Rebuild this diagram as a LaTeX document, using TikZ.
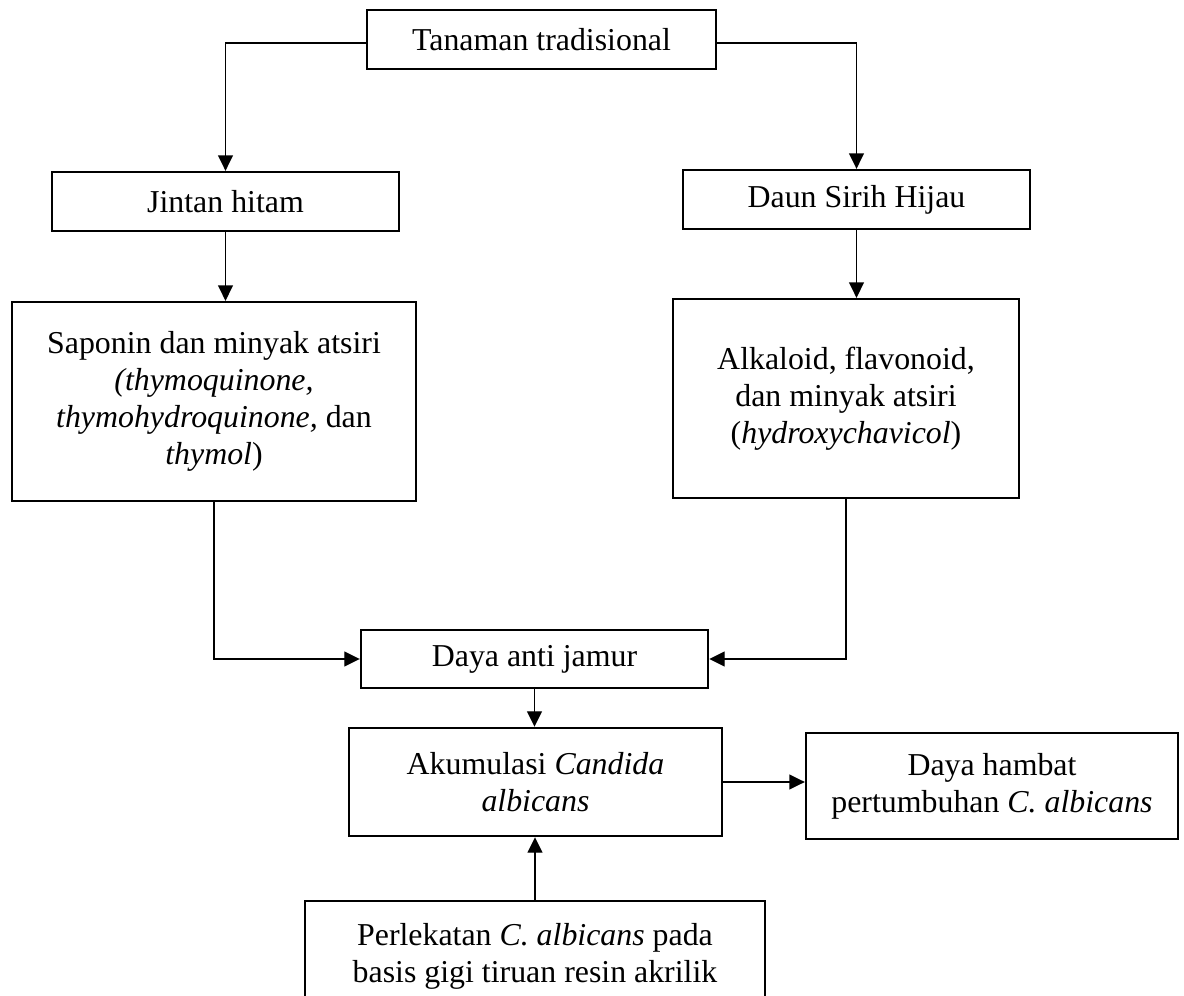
\documentclass[tikz,border=0pt]{standalone}
\usepackage{fontspec}
\setmainfont{Liberation Serif}
\usetikzlibrary{arrows.meta}
\usetikzlibrary{positioning}
\tikzset{kotak/.style = {draw, line width = 0.9pt, align = center, inner sep = 0, font = \fontsize{12}{14}\selectfont}}
\tikzset{panah/.style = {-{Triangle[length = 5.8pt, width = 5.6pt]}, line width = 0.45pt}}

\begin{document}
\begin{tikzpicture}[x = 0.3766pt, y = -0.3766pt]
    \useasboundingbox (0, 0) rectangle (1184, 996);
    \clip (0, 0) rectangle (1184, 996);

    \node [kotak, minimum width = 131.4pt, minimum height = 22.2pt] (tanaman) at (541.5, 39.5) {Tanaman tradisional};
    \node [kotak, minimum width = 130.7pt, minimum height = 22.2pt] (jintan) at (225.5, 201.5) {Jintan hitam};
    \node [kotak, minimum width = 130.7pt, minimum height = 22.2pt] (daun) at (856.5, 199.5) {Daun Sirih Hijau};
    \node [kotak, minimum width = 152.1pt, minimum height = 74.9pt] (saponin) at (214, 401.5)
      {Saponin dan minyak atsiri\\ \textit{(thymoquinone,}\\ \textit{thymohydroquinone,} dan\\ \textit{thymol})};
    \node [kotak, minimum width = 130.3pt, minimum height = 74.9pt] (alkaloid) at (846, 398.5)
      {Alkaloid, flavonoid,\\ dan minyak atsiri\\ (\textit{hydroxychavicol})};
    \node [kotak, minimum width = 130.7pt, minimum height = 21.8pt] (dayaanti) at (534.5, 659) {Daya anti jamur};
    \node [kotak, minimum width = 140.5pt, minimum height = 40.7pt] (akumulasi) at (535.5, 782)
      {Akumulasi \textit{Candida}\\ \textit{albicans}};
    \node [kotak, minimum width = 140.1pt, minimum height = 39.9pt] (hambat) at (992, 786)
      {Daya hambat\\ pertumbuhan \textit{C. albicans}};
    \node [kotak, minimum width = 173.2pt, minimum height = 41.4pt] (perlekatan) at (535, 956)
      {Perlekatan \textit{C. albicans} pada\\ basis gigi tiruan resin akrilik};

    % cabang dari tanaman
    \draw [panah] ([yshift = -1.3pt] tanaman.west) -| (jintan.north);
    \draw [panah] ([yshift = -1.3pt] tanaman.east) -| (daun.north);
    \draw [panah] (jintan.south) -- (jintan.south |- saponin.north);
    \draw [panah] (daun.south) -- (daun.south |- alkaloid.north);
    % menuju daya anti jamur
    \draw [panah] (saponin.south) |- (dayaanti.west);
    \draw [panah] (alkaloid.south) |- (dayaanti.east);
    \draw [panah] (dayaanti.south) -- (dayaanti.south |- akumulasi.north);
    \draw [panah] (akumulasi.east) -- (akumulasi.east -| hambat.west);
    \draw [panah] (perlekatan.north) -- (perlekatan.north |- akumulasi.south);
  \end{tikzpicture}
\end{document}
